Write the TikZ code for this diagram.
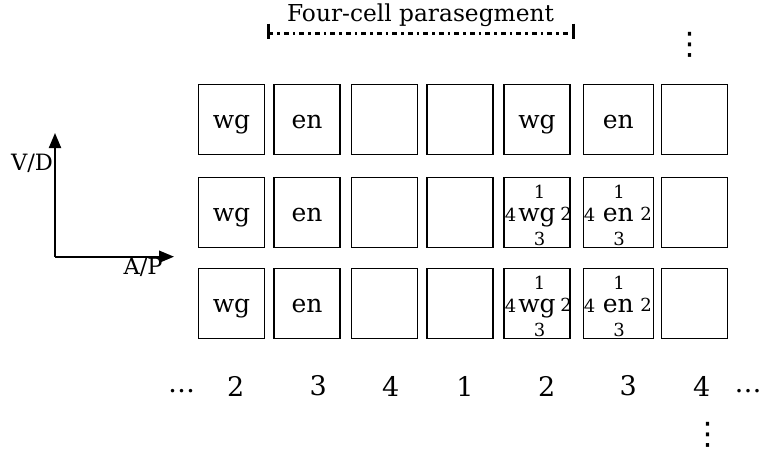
\documentclass[tikz,border=0pt]{standalone}
\usepackage{fontspec}
\setmainfont{DejaVu Serif}
\newfontfamily\symfont{DejaVu Sans}
\usetikzlibrary{arrows.meta}
\begin{document}
\begin{tikzpicture}[x=1pt,y=-1pt,
  cell/.style={draw, line width=1.3pt, minimum width=66pt, minimum height=70pt,
    inner sep=0pt, text height=19pt, text depth=0pt, font=\fontsize{25}{28}\selectfont},
  wide/.style={minimum width=70pt},
  side/.style={inner sep=0pt, font=\fontsize{18}{21}\selectfont},
  lab/.style={inner sep=0pt, font=\fontsize{27}{30}\selectfont},
  axlab/.style={inner sep=0pt, font=\fontsize{22.5}{26}\selectfont},
  vdot/.style={inner sep=0pt, font=\symfont\fontsize{31}{34}\selectfont},
  axis/.style={line width=2pt, -{Triangle[length=15pt,width=12pt]}},
  span/.style={line width=2.7pt, dash pattern=on 5pt off 4pt on 2.5pt off 4pt},
  spanend/.style={line width=3pt}]
\useasboundingbox (0,0) rectangle (761,455);

% title and parasegment bracket
\node[axlab, font=\fontsize{23.3}{27}\selectfont] (title) at (420.5,15) {Four-cell parasegment};
\coordinate (pl) at (268.3,33.5);
\coordinate (pr) at (573.3,33.5);
\draw[span] (pl) -- (pr);
\draw[spanend] (pl) ++(0,-10) -- ++(0,15);
\draw[spanend] (pr) ++(0,-10) -- ++(0,15);

% axes
\coordinate (o) at (55,256.7);
\coordinate (vd) at (55,133);
\coordinate (ap) at (174,256.7);
\draw[axis] (o) -- (vd);
\draw[axis] (o) -- (ap);
\node[axlab] (vdl) at (32,163) {V/D};
\node[axlab] (apl) at (143,267) {A/P};

% row 1
\node[cell] (c11) at (231.5,119.2) {wg};
\node[cell] (c12) at (307,119.2) {en};
\node[cell] (c13) at (384.7,119.2) {};
\node[cell] (c14) at (460,119.2) {};
\node[cell] (c15) at (537,119.2) {wg};
\node[cell,wide] (c16) at (618.3,119.2) {en};
\node[cell] (c17) at (694.7,119.2) {};

% row 2
\node[cell] (c21) at (231.5,212.3) {wg};
\node[cell] (c22) at (307,212.3) {en};
\node[cell] (c23) at (384.7,212.3) {};
\node[cell] (c24) at (460,212.3) {};
\node[cell] (c25) at (537,212.3) {wg};
\node[cell,wide] (c26) at (618.3,212.3) {en};
\node[cell] (c27) at (694.7,212.3) {};

% row 3
\node[cell] (c31) at (231.5,303.2) {wg};
\node[cell] (c32) at (307,303.2) {en};
\node[cell] (c33) at (384.7,303.2) {};
\node[cell] (c34) at (460,303.2) {};
\node[cell] (c35) at (537,303.2) {wg};
\node[cell,wide] (c36) at (618.3,303.2) {en};
\node[cell] (c37) at (694.7,303.2) {};

% side numbers of the marked cells
\foreach \r in {2,3}{
  \node[side] (n\r5a) at ([shift={(2.5,-20)}]c\r5.center) {1};
  \node[side] (n\r5b) at ([shift={(29,1.5)}]c\r5.center) {2};
  \node[side] (n\r5c) at ([shift={(2.5,27)}]c\r5.center) {3};
  \node[side] (n\r5d) at ([shift={(-26.5,3)}]c\r5.center) {4};
  \node[side] (n\r6a) at ([shift={(0.7,-20)}]c\r6.center) {1};
  \node[side] (n\r6b) at ([shift={(27.7,1.5)}]c\r6.center) {2};
  \node[side] (n\r6c) at ([shift={(0.7,27)}]c\r6.center) {3};
  \node[side] (n\r6d) at ([shift={(-28.8,3)}]c\r6.center) {4};
}

% cell numbering along the axis
\node[lab] (l0) at (181.7,391) {…};
\node[lab] (l1) at (235.7,386) {2};
\node[lab] (l2) at (318.3,386) {3};
\node[lab] (l3) at (390.7,386) {4};
\node[lab] (l4) at (465,386) {1};
\node[lab] (l5) at (546.7,386) {2};
\node[lab] (l6) at (628.3,386) {3};
\node[lab] (l7) at (701.7,386) {4};
\node[lab] (l8) at (748,391) {…};

% continuation marks
\node[vdot] (vt) at (690,44.5) {⋮};
\node[vdot] (vb) at (707.7,434.5) {⋮};
\end{tikzpicture}
\end{document}
